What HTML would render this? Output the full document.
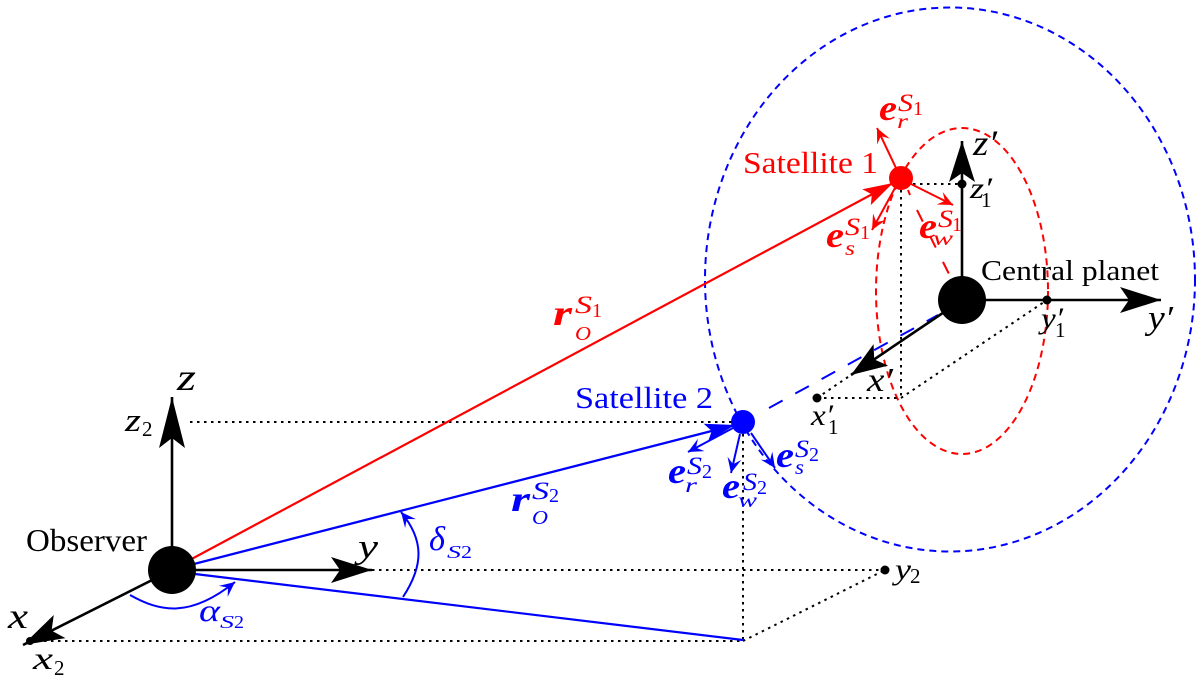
<!DOCTYPE html>
<html><head><meta charset="utf-8"><style>
html,body{margin:0;padding:0;background:#fff}
svg{display:block}
text{font-family:"Liberation Serif",serif;fill:#000}
.i{font-style:italic}
.b{font-style:italic;font-weight:bold}
.r{fill:#f00}.u{fill:#00f}
</style></head><body>
<svg width="1200" height="686" viewBox="0 0 1200 686" xmlns="http://www.w3.org/2000/svg">
<defs>
<marker id="kb" markerUnits="userSpaceOnUse" markerWidth="50" markerHeight="40" refX="46" refY="20" orient="auto"><path d="M46,20 L5,7 L14,20 L5,33 Z" fill="#000"/></marker>
<marker id="kz" markerUnits="userSpaceOnUse" markerWidth="60" markerHeight="40" refX="56" refY="20" orient="auto"><path d="M56,20 L5,7 L15,20 L5,33 Z" fill="#000"/></marker>
<marker id="kx" markerUnits="userSpaceOnUse" markerWidth="50" markerHeight="40" refX="46" refY="20" orient="auto"><path d="M46,20 L10,7 L18,20 L10,33 Z" fill="#000"/></marker>
<marker id="rb" markerUnits="userSpaceOnUse" markerWidth="50" markerHeight="40" refX="44" refY="20" orient="auto"><path d="M44,20 L14,11 L20,20 L14,29 Z" fill="#f00"/></marker>
<marker id="ub" markerUnits="userSpaceOnUse" markerWidth="50" markerHeight="40" refX="44" refY="20" orient="auto"><path d="M44,20 L14,11 L20,20 L14,29 Z" fill="#00f"/></marker>
<marker id="rs" markerUnits="userSpaceOnUse" markerWidth="30" markerHeight="30" refX="24" refY="15" orient="auto"><path d="M24,15 L9,8 L15,15 L9,22 Z" fill="#f00"/></marker>
<marker id="us" markerUnits="userSpaceOnUse" markerWidth="30" markerHeight="30" refX="24" refY="15" orient="auto"><path d="M24,15 L9,8 L15,15 L9,22 Z" fill="#00f"/></marker>
</defs>

<!-- ellipses -->
<ellipse cx="950" cy="279.500" rx="245" ry="272" fill="none" stroke="#00f" stroke-width="2" stroke-dasharray="7 5"/>
<ellipse cx="962" cy="291" rx="86" ry="163" fill="none" stroke="#f00" stroke-width="2" stroke-dasharray="7 5"/>

<!-- dotted -->
<g fill="none" stroke="#000" stroke-width="2" stroke-dasharray="2.500 4.500">
<path d="M190,422 H735"/>
<path d="M372,570 H885"/>
<path d="M30,641 H743"/>
<path d="M743,434 V641"/>
<path d="M743,641 L885,570"/>
<path d="M901,190 V398"/>
<path d="M913,184 H962"/>
<path d="M817,398 H901"/>
<path d="M901,398 L1047,300"/>
<path d="M817,398 L851,375"/>
</g>

<!-- long dashes -->
<path d="M917,210 L950,276" fill="none" stroke="#f00" stroke-width="2" stroke-dasharray="13 16"/>
<path d="M908,190 L910,195" fill="none" stroke="#f00" stroke-width="2"/>
<path d="M769,408 L938,315" fill="none" stroke="#00f" stroke-width="2" stroke-dasharray="15.500 14.500"/>

<!-- position vectors -->
<path d="M186,562 L893,183" fill="none" stroke="#f00" stroke-width="2.200" marker-end="url(#rb)"/>
<path d="M190,565 L735,425" fill="none" stroke="#00f" stroke-width="2.200" marker-end="url(#ub)"/>
<path d="M195,574 L743,640" fill="none" stroke="#00f" stroke-width="2.200"/>

<!-- axes -->
<g fill="none" stroke="#000" stroke-width="2.600">
<path d="M172,570 V397" marker-end="url(#kz)"/>
<path d="M172,570 H372" marker-end="url(#kb)"/>
<path d="M172,570 L23,645" marker-end="url(#kb)"/>
<path d="M962,300 V141" marker-end="url(#kb)"/>
<path d="M962,300 H1161" marker-end="url(#kb)"/>
<path d="M962,300 L851,375" marker-end="url(#kx)"/>
</g>

<!-- unit vectors -->
<g fill="none" stroke="#f00" stroke-width="2">
<path d="M896,168 L877,128" marker-end="url(#rs)"/>
<path d="M895,188 L872,230" marker-end="url(#rs)"/>
<path d="M911,184 L953,205" marker-end="url(#rs)"/>
</g>
<g fill="none" stroke="#00f" stroke-width="2">
<path d="M733,428 L688,452" marker-end="url(#us)"/>
<path d="M740,434 L731,473" marker-end="url(#us)"/>
<path d="M751,433 L775,468" marker-end="url(#us)"/>
<path d="M130,595 C160,612 190,618 235,582" marker-end="url(#us)"/>
<path d="M403,597 C424,565 424,540 401,512" marker-end="url(#us)"/>
</g>

<!-- nodes -->
<circle cx="172" cy="570" r="24" fill="#000"/>
<circle cx="962" cy="300" r="24" fill="#000"/>
<circle cx="901" cy="178" r="12" fill="#f00"/>
<circle cx="743" cy="422" r="12" fill="#00f"/>
<circle cx="962" cy="184" r="4.500" fill="#000"/>
<circle cx="1047" cy="300" r="4.500" fill="#000"/>
<circle cx="817" cy="398" r="4.500" fill="#000"/>
<circle cx="885" cy="570" r="4.500" fill="#000"/>
<circle cx="30" cy="641" r="4" fill="#000"/>

<!-- black labels -->
<text x="26" y="551" font-size="32" textLength="121" lengthAdjust="spacingAndGlyphs">Observer</text>
<text x="981" y="280" font-size="29" textLength="178" lengthAdjust="spacingAndGlyphs">Central planet</text>
<text x="177" y="390" font-size="38" class="i" textLength="19" lengthAdjust="spacingAndGlyphs">z</text>
<text x="125" y="431" font-size="33" class="i" textLength="16" lengthAdjust="spacingAndGlyphs">z</text>
<text x="142" y="436" font-size="21">2</text>
<text x="358" y="558" font-size="34" class="i" textLength="20" lengthAdjust="spacingAndGlyphs">y</text>
<text x="8" y="628" font-size="36" class="i" textLength="20" lengthAdjust="spacingAndGlyphs">x</text>
<text x="33" y="669" font-size="32" class="i" textLength="20" lengthAdjust="spacingAndGlyphs">x</text>
<text x="54" y="675" font-size="21">2</text>
<text x="973" y="155" font-size="36" class="i" textLength="24" lengthAdjust="spacingAndGlyphs">z&#8242;</text>
<text x="970" y="198" font-size="30" class="i" textLength="22" lengthAdjust="spacingAndGlyphs">z&#8242;</text>
<text x="981" y="207" font-size="21">1</text>
<text x="1148" y="329" font-size="34" class="i" textLength="25" lengthAdjust="spacingAndGlyphs">y&#8242;</text>
<text x="1041" y="328" font-size="30" class="i" textLength="22" lengthAdjust="spacingAndGlyphs">y&#8242;</text>
<text x="1055" y="337" font-size="21">1</text>
<text x="867" y="391" font-size="34" class="i" textLength="26" lengthAdjust="spacingAndGlyphs">x&#8242;</text>
<text x="811" y="425" font-size="30" class="i" textLength="22" lengthAdjust="spacingAndGlyphs">x&#8242;</text>
<text x="828" y="434" font-size="21">1</text>
<text x="895" y="579" font-size="30" class="i" textLength="16" lengthAdjust="spacingAndGlyphs">y</text>
<text x="910" y="583" font-size="21">2</text>

<!-- red labels -->
<text x="743" y="173" font-size="31" class="r" textLength="135" lengthAdjust="spacingAndGlyphs">Satellite 1</text>
<text x="879" y="120" font-size="36" class="b r" textLength="18" lengthAdjust="spacingAndGlyphs">e</text>
<text x="898" y="111" font-size="25" class="i r" textLength="15" lengthAdjust="spacingAndGlyphs">S</text>
<text x="913" y="115" font-size="20" class="r">1</text>
<text x="897" y="128" font-size="21" class="i r" textLength="11" lengthAdjust="spacingAndGlyphs">r</text>
<text x="826" y="247" font-size="36" class="b r" textLength="18" lengthAdjust="spacingAndGlyphs">e</text>
<text x="845" y="235" font-size="25" class="i r" textLength="15" lengthAdjust="spacingAndGlyphs">S</text>
<text x="860" y="239" font-size="20" class="r">1</text>
<text x="845" y="255" font-size="21" class="i r" textLength="10" lengthAdjust="spacingAndGlyphs">s</text>
<text x="919" y="238" font-size="36" class="b r" textLength="18" lengthAdjust="spacingAndGlyphs">e</text>
<text x="938" y="227" font-size="25" class="i r" textLength="15" lengthAdjust="spacingAndGlyphs">S</text>
<text x="952" y="231" font-size="20" class="r">1</text>
<text x="933" y="245" font-size="21" class="i r" textLength="20" lengthAdjust="spacingAndGlyphs">w</text>
<text x="553" y="325" font-size="36" class="b r" textLength="19" lengthAdjust="spacingAndGlyphs">r</text>
<text x="575" y="313" font-size="25" class="i r" textLength="17" lengthAdjust="spacingAndGlyphs">S</text>
<text x="592" y="317" font-size="20" class="r">1</text>
<text x="575" y="340" font-size="20" class="i r" textLength="16" lengthAdjust="spacingAndGlyphs">O</text>

<!-- blue labels -->
<text x="575" y="408" font-size="31" class="u" textLength="138" lengthAdjust="spacingAndGlyphs">Satellite 2</text>
<text x="668" y="483" font-size="36" class="b u" textLength="18" lengthAdjust="spacingAndGlyphs">e</text>
<text x="687" y="474" font-size="25" class="i u" textLength="15" lengthAdjust="spacingAndGlyphs">S</text>
<text x="702" y="478" font-size="20" class="u">2</text>
<text x="685" y="492" font-size="21" class="i u" textLength="12" lengthAdjust="spacingAndGlyphs">r</text>
<text x="722" y="498" font-size="36" class="b u" textLength="18" lengthAdjust="spacingAndGlyphs">e</text>
<text x="743" y="490" font-size="25" class="i u" textLength="14" lengthAdjust="spacingAndGlyphs">S</text>
<text x="757" y="494" font-size="20" class="u">2</text>
<text x="738" y="507" font-size="21" class="i u" textLength="19" lengthAdjust="spacingAndGlyphs">w</text>
<text x="776" y="467" font-size="36" class="b u" textLength="18" lengthAdjust="spacingAndGlyphs">e</text>
<text x="795" y="457" font-size="25" class="i u" textLength="14" lengthAdjust="spacingAndGlyphs">S</text>
<text x="809" y="461" font-size="20" class="u">2</text>
<text x="795" y="474" font-size="21" class="i u" textLength="9" lengthAdjust="spacingAndGlyphs">s</text>
<text x="511" y="511" font-size="36" class="b u" textLength="19" lengthAdjust="spacingAndGlyphs">r</text>
<text x="532" y="499" font-size="25" class="i u" textLength="17" lengthAdjust="spacingAndGlyphs">S</text>
<text x="549" y="502" font-size="20" class="u">2</text>
<text x="532" y="524" font-size="20" class="i u" textLength="16" lengthAdjust="spacingAndGlyphs">O</text>
<text x="429" y="550" font-size="34" class="i u" textLength="16" lengthAdjust="spacingAndGlyphs">&#948;</text>
<text x="447" y="558" font-size="18" class="i u" textLength="14" lengthAdjust="spacingAndGlyphs">S</text>
<text x="461" y="558" font-size="18" class="u" textLength="11" lengthAdjust="spacingAndGlyphs">2</text>
<text x="199" y="621" font-size="32" class="i u" textLength="21" lengthAdjust="spacingAndGlyphs">&#945;</text>
<text x="220" y="628" font-size="18" class="i u" textLength="14" lengthAdjust="spacingAndGlyphs">S</text>
<text x="234" y="628" font-size="18" class="u" textLength="10" lengthAdjust="spacingAndGlyphs">2</text>
</svg>
</body></html>
